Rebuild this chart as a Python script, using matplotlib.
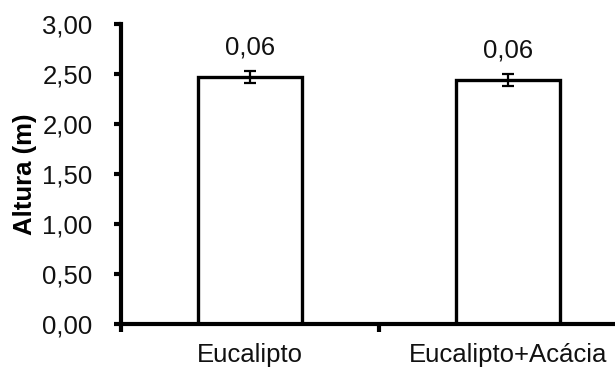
import matplotlib
matplotlib.use("Agg")
import matplotlib.pyplot as plt
from matplotlib.ticker import FixedLocator, FuncFormatter

plt.rcParams['font.family'] = ['Liberation Sans', 'DejaVu Sans']

categories = ["Eucalipto", "Eucalipto+Acácia"]
heights = [2.47, 2.44]
errors = [0.06, 0.06]
error_labels = ["0,06", "0,06"]
y_ticks = [0.0, 0.5, 1.0, 1.5, 2.0, 2.5, 3.0]

FS = 18.5
TXT = "#111111"

fig = plt.figure(figsize=(6.15, 3.70), dpi=100)
W, H = 615, 370
ax = fig.add_axes([121 / W, 46 / H, 516 / W, 300 / H])

x = list(range(len(categories)))
ax.bar(x, heights, width=0.40, color="white", edgecolor="black", linewidth=2.4, zorder=2)
ax.errorbar(x, heights, yerr=errors, fmt="none", ecolor="black", elinewidth=1.6,
            capsize=4.3, capthick=1.6, zorder=3)
for xi, h, e, lab in zip(x, heights, errors, error_labels):
    ax.annotate(lab, xy=(xi, h + e), xytext=(0, 12), textcoords="offset points",
                ha="center", va="baseline", fontsize=FS, color=TXT)

ax.set_xlim(-0.5, len(categories) - 0.5)
ax.set_ylim(0, 3.0)

for side in ("top", "right"):
    ax.spines[side].set_visible(False)
for side in ("left", "bottom"):
    ax.spines[side].set_linewidth(3.0)
    ax.spines[side].set_capstyle("projecting")

ax.yaxis.set_major_locator(FixedLocator(y_ticks))
ax.yaxis.set_major_formatter(FuncFormatter(lambda v, p: f"{v:.2f}".replace(".", ",")))
ax.tick_params(axis="y", direction="out", length=5, width=3.0, pad=15.5,
               labelsize=FS, labelcolor=TXT)

# category boundaries carry the x ticks; names sit at the centres
ax.xaxis.set_major_locator(FixedLocator([-0.5, 0.5, 1.5]))
ax.xaxis.set_major_formatter(FuncFormatter(lambda v, p: ""))
ax.xaxis.set_minor_locator(FixedLocator(x))
ax.xaxis.set_minor_formatter(FuncFormatter(lambda v, p: categories[int(round(v))]))
ax.tick_params(axis="x", which="major", direction="out", length=6, width=3.0)
ax.tick_params(axis="x", which="minor", length=0, pad=14, labelsize=FS,
               labelcolor=TXT)

ax.set_ylabel("Altura (m)", fontsize=FS, fontweight="bold", labelpad=4)

fig.savefig("out.png", dpi=100)
